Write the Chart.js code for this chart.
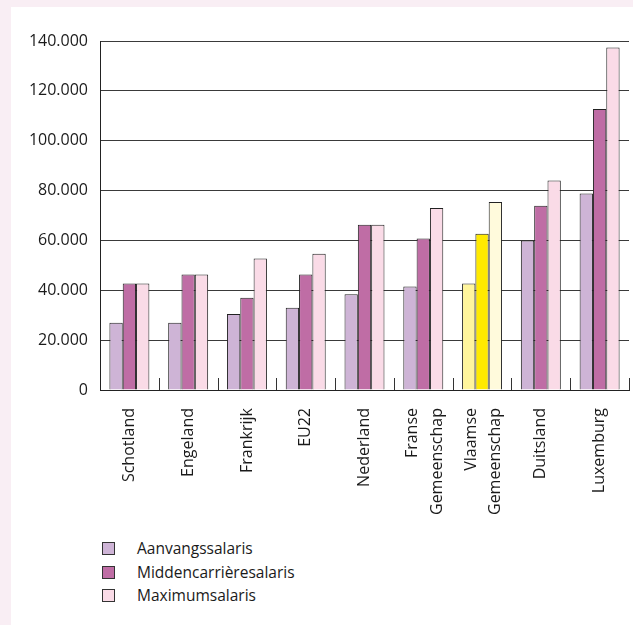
<!DOCTYPE html>
<html>
<head>
<meta charset="utf-8">
<script src="https://cdn.jsdelivr.net/npm/chart.js@4.4.1/dist/chart.umd.min.js"></script>
<style>
  body { margin: 0; background: #f9eef4; width: 633px; height: 625px; overflow: hidden; font-family: "Open Sans", sans-serif; }
  #panel { position: absolute; left: 11px; top: 7px; width: 622px; height: 618px; background: #fff; }
  #wrap { position: absolute; left: 0; top: 0; width: 622px; height: 530px; }
  #legend { position: absolute; left: 91px; top: 530px; font-size: 15.5px; color: #1a1a1a; }
  #legend div { height: 23.5px; line-height: 23.5px; display: flex; align-items: center; }
  #legend span.box { display: inline-block; width: 11px; height: 11px; border: 1px solid #333; margin-right: 22px; }
</style>
</head>
<body>
<div id="panel">
  <div id="wrap"><canvas id="salarisChart"></canvas></div>
  <div id="legend"></div>
</div>
<script>
// Categories (landen / gemeenschappen)
var categories = [
  'Schotland', 'Engeland', 'Frankrijk', 'EU22', 'Nederland',
  ['Franse', 'Gemeenschap'], ['Vlaamse', 'Gemeenschap'], 'Duitsland', 'Luxemburg'
];
var seriesNames = ['Aanvangssalaris', 'Middencarrièresalaris', 'Maximumsalaris'];

// Values
var aanvang = [27000, 27000, 30500, 33000, 38400, 41500, 42700, 60000, 78800];
var midden  = [42700, 46300, 37000, 46300, 66300, 60800, 62700, 73900, 112700];
var maximum = [42700, 46300, 52800, 54700, 66300, 73000, 75400, 84000, 137400];

var yTicks = [0, 20000, 40000, 60000, 80000, 100000, 120000, 140000];

// Colours: purple tones, yellow tones for Vlaamse Gemeenschap
var baseColors = ['#ceb4d6', '#bf6da5', '#fadbe7'];
var highlightColors = ['#fff59c', '#ffea00', '#fffadc'];
var highlightIndex = 6;

function colorsFor(seriesIdx) {
  return categories.map(function(c, i) {
    return i === highlightIndex ? highlightColors[seriesIdx] : baseColors[seriesIdx];
  });
}

function formatThousands(v) {
  return String(v).replace(/\B(?=(\d{3})+(?!\d))/g, '.');
}

// Short inward tick marks between the category groups,
// and center the two-line labels on their group
var axisTweaks = {
  id: 'axisTweaks',
  beforeDraw: function(chart) {
    var items = chart.scales.x.getLabelItems(chart.chartArea);
    items.forEach(function(it) {
      if (Array.isArray(it.label)) {
        it.options.translation[0] -= 11;
      }
    });
  },
  afterDatasetsDraw: function(chart) {
    var x = chart.scales.x;
    var y = chart.scales.y;
    var ctx = chart.ctx;
    var zero = y.getPixelForValue(0);
    var half = (x.getPixelForValue(1) - x.getPixelForValue(0)) / 2;
    ctx.save();
    ctx.strokeStyle = '#333';
    ctx.lineWidth = 1;
    for (var i = 0; i < categories.length; i++) {
      var px = Math.round(x.getPixelForValue(i) + half) + 0.5;
      ctx.beginPath();
      ctx.moveTo(px, zero);
      ctx.lineTo(px, zero - 12);
      ctx.stroke();
    }
    ctx.restore();
  }
};

var datasets = [aanvang, midden, maximum].map(function(values, s) {
  return {
    label: seriesNames[s],
    data: values,
    backgroundColor: colorsFor(s),
    borderColor: '#222',
    borderWidth: 1,
    categoryPercentage: 0.68,
    barPercentage: 1.0
  };
});

Chart.defaults.font.family = '"Open Sans", sans-serif';
Chart.defaults.color = '#1a1a1a';

var chart = new Chart(document.getElementById('salarisChart'), {
  type: 'bar',
  data: { labels: categories, datasets: datasets },
  plugins: [axisTweaks],
  options: {
    responsive: true,
    maintainAspectRatio: false,
    animation: false,
    layout: { padding: { top: 34, right: 4, left: 0, bottom: 0 } },
    plugins: {
      legend: { display: false },
      tooltip: { enabled: false }
    },
    scales: {
      x: {
        grid: { display: false, drawTicks: false },
        border: { display: true, color: '#222', width: 1 },
        ticks: { font: { size: 16, lineHeight: 1.55 }, minRotation: 90, maxRotation: 90, padding: 18, autoSkip: false },
        afterFit: function(scale) {
          scale.height = 147;
          scale.paddingLeft = 0;
          scale.paddingRight = 0;
        }
      },
      y: {
        min: 0,
        max: 140000,
        afterBuildTicks: function(scale) {
          scale.ticks = yTicks.map(function(v) { return { value: v }; });
        },
        grid: { color: '#3a3a3a', drawTicks: false },
        border: { display: true, color: '#222', width: 1 },
        ticks: { font: { size: 16 }, padding: 12, callback: function(v) { return formatThousands(v); } },
        afterFit: function(scale) { scale.width = 89; }
      }
    }
  }
});

// HTML legend below the chart
var legendEl = document.getElementById('legend');
seriesNames.forEach(function(name, s) {
  var row = document.createElement('div');
  row.innerHTML = '<span class="box" style="background:' + baseColors[s] + '"></span>' + name;
  legendEl.appendChild(row);
});
</script>
</body>
</html>
